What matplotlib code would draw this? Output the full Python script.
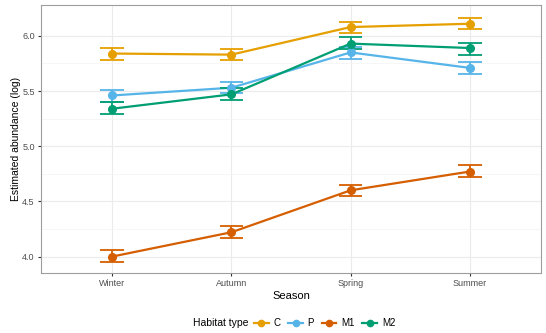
import numpy as np
import matplotlib
matplotlib.use("Agg")
import matplotlib.pyplot as plt
from matplotlib.lines import Line2D

plt.rcParams['font.family'] = ['Liberation Sans', 'DejaVu Sans']

seasons = ["Winter", "Autumn", "Spring", "Summer"]
habitats = ["C", "P", "M1", "M2"]

# estimated abundance (log) and lower / upper confidence limits
est_C = [5.84, 5.83, 6.08, 6.11]
lo_C = [5.78, 5.78, 6.03, 6.06]
hi_C = [5.89, 5.88, 6.13, 6.16]

est_P = [5.46, 5.53, 5.85, 5.71]
lo_P = [5.40, 5.48, 5.79, 5.65]
hi_P = [5.51, 5.58, 5.90, 5.76]

est_M1 = [4.00, 4.22, 4.60, 4.77]
lo_M1 = [3.95, 4.17, 4.55, 4.72]
hi_M1 = [4.06, 4.28, 4.65, 4.83]

est_M2 = [5.34, 5.47, 5.93, 5.89]
lo_M2 = [5.29, 5.42, 5.88, 5.83]
hi_M2 = [5.40, 5.53, 5.99, 5.94]

colors = {"C": "#E69F00", "P": "#56B4E9", "M1": "#D55E00", "M2": "#009E73"}
series = {
    "C": (est_C, lo_C, hi_C),
    "P": (est_P, lo_P, hi_P),
    "M1": (est_M1, lo_M1, hi_M1),
    "M2": (est_M2, lo_M2, hi_M2),
}

fig = plt.figure(figsize=(5.46, 3.33), dpi=100)
ax = fig.add_axes([0.075, 0.180, 0.916, 0.805])

x = np.arange(len(seasons))
cap = 0.1
for h in habitats:
    est, lo, hi = (np.array(v) for v in series[h])
    c = colors[h]
    ax.plot(x, est, color=c, lw=1.6, zorder=3)
    ax.vlines(x, lo, hi, color=c, lw=1.3, zorder=3)
    ax.hlines(lo, x - cap, x + cap, color=c, lw=1.3, zorder=3)
    ax.hlines(hi, x - cap, x + cap, color=c, lw=1.3, zorder=3)
    ax.plot(x, est, 'o', color=c, ms=5.5, zorder=4)

ax.set_xlim(-0.6, len(seasons) - 0.4)
ax.set_ylim(3.85, 6.28)
ax.set_xticks(x)
ax.set_xticklabels(seasons)
ax.set_yticks([4.0, 4.5, 5.0, 5.5, 6.0])
ax.set_yticks([4.25, 4.75, 5.25, 5.75], minor=True)

ax.grid(True, which='major', color='#EBEBEB', lw=0.8, zorder=0)
ax.grid(True, which='minor', axis='y', color='#F3F3F3', lw=0.5, zorder=0)
ax.set_axisbelow(True)
for s in ax.spines.values():
    s.set_color('#9E9E9E')
    s.set_linewidth(0.8)
ax.tick_params(which='major', length=2.5, color='#333333', labelsize=6.5,
               labelcolor='#4D4D4D', pad=2)
ax.tick_params(which='minor', length=0)

ax.set_xlabel("Season", fontsize=8, labelpad=2)
ax.set_ylabel("Estimated abundance (log)", fontsize=7.5, labelpad=1)

# legend along the bottom, title to the left of the keys
fig.text(193 / 546, 1 - 323 / 333, "Habitat type", fontsize=7.5,
         ha='left', va='center')
handles = [Line2D([0], [0], color=colors[h], lw=1.6, marker='o', ms=4.5)
           for h in habitats]
fig.legend(handles, habitats, loc='center left', ncol=4, frameon=False,
           bbox_to_anchor=(254 / 546, 1 - 323 / 333), fontsize=7,
           handlelength=1.5, handletextpad=0.5, columnspacing=0.8,
           borderaxespad=0, borderpad=0)

fig.savefig("out.png", dpi=100)
